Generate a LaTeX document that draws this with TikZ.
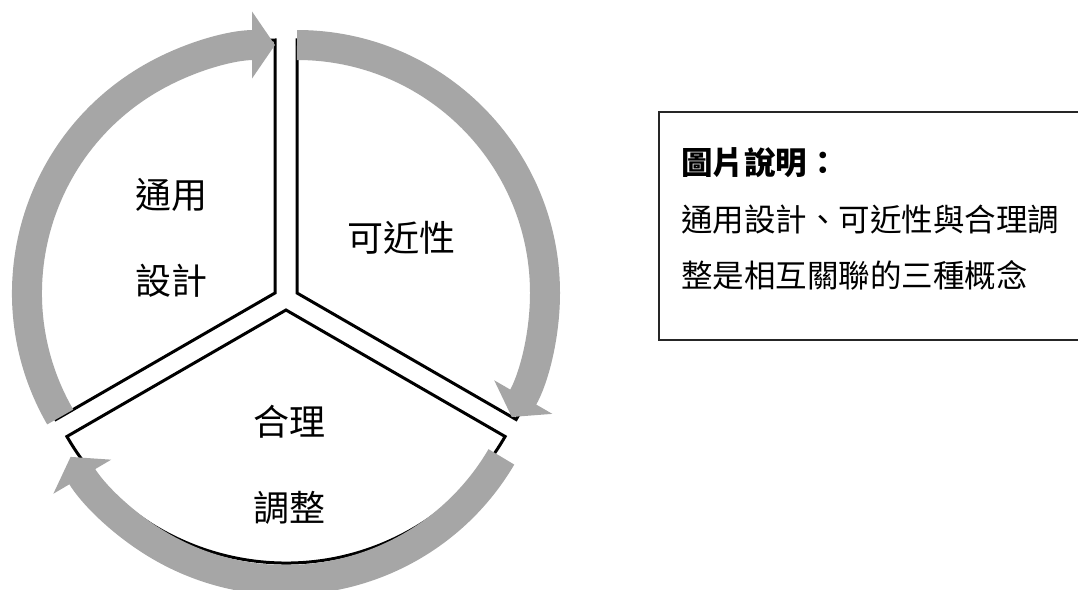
\documentclass[tikz,border=0pt]{standalone}
\usepackage{fontspec}
\setmainfont{Noto Sans CJK TC}
\usetikzlibrary{arrows.meta}
\definecolor{flowgray}{RGB}{166,166,166}

\begin{document}
\begin{tikzpicture}[x=1pt,y=1pt,
  sector/.style={draw=black,line width=3pt,fill=white},
  flow/.style={draw=flowgray,line width=30pt,-{Triangle[width=66pt,length=23pt]}},
  label/.style={inner sep=0pt,font=\fontsize{36}{86}\selectfont,align=center,anchor=base},
  note/.style={inner sep=0pt,font=\fontsize{31.5}{38}\selectfont,anchor=base west}]
  \useasboundingbox (0,0) rectangle (1078,-589);
  % centres of the three pieces
  \coordinate (cL) at (275,-293);
  \coordinate (cR) at (297,-293);
  \coordinate (cB) at (286,-310);
  \coordinate (cA) at (286,-330);
  % pieces
  \draw[sector] (cL) -- ++(90:253) arc[start angle=90,end angle=210,radius=253] -- cycle;
  \draw[sector] (cR) -- ++(90:253) arc[start angle=90,end angle=-30,radius=253] -- cycle;
  \draw[sector] (cB) -- ++(210:253) arc[start angle=210,end angle=330,radius=253] -- cycle;
  % arrows round the pieces
  \draw[flow] (cL) ++(210:248) arc[start angle=210,end angle=90,radius=248];
  \draw[flow] (cR) ++(90:248) arc[start angle=90,end angle=-30,radius=248];
  \draw[flow] (cA) ++(-30.5:250) arc[start angle=-30.5,end angle=-149.5,radius=250];
  % labels (base = last line)
  \node[label] (ud) at (171,-294.7) {通用\\設計};
  \node[label] (ac) at (401,-251.7) {可近性};
  \node[label] (ra) at (289,-521.7) {合理\\調整};
  % caption box
  \draw[line width=1.5pt,draw=black!85] (659,-112) rectangle (1100,-340);
  \node[note,font=\fontsize{31.5}{38}\selectfont\bfseries] (head) at (681,-174) {圖片說明：};
  \node[note] (line1) at (681,-231) {通用設計、可近性與合理調};
  \node[note] (line2) at (681,-287) {整是相互關聯的三種概念};
\end{tikzpicture}
\end{document}
